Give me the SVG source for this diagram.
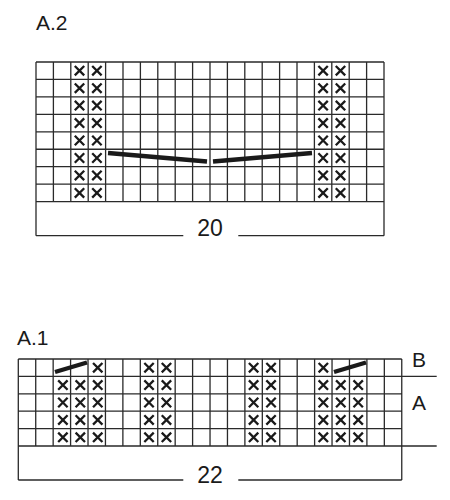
<svg xmlns="http://www.w3.org/2000/svg" xmlns:xlink="http://www.w3.org/1999/xlink" width="450" height="500" viewBox="0 0 450 500">
<style>
.grid{fill:none;stroke:#2a2a2a;stroke-width:1.3}
.xm{fill:none;stroke:#1a1a1a;stroke-width:2.3}
.dec{stroke:#1a1a1a;stroke-width:4.3;stroke-linecap:butt}
.lbl{font-family:"Liberation Sans",Arial,sans-serif;font-size:21px;fill:#1a1a1a}
.num{font-family:"Liberation Sans",Arial,sans-serif;font-size:23px;fill:#1a1a1a;text-anchor:middle}
</style>
<defs>
<path id="x" class="xm" d="M-4.7,-4.7L4.7,4.7M4.7,-4.7L-4.7,4.7"/>
</defs>
<rect width="450" height="500" fill="#fff"/>

<g id="chartA2">
<text class="lbl" x="36" y="30">A.2</text>
<path class="grid" d="M36,62H384M36,79.45H384M36,96.9H384M36,114.35H384M36,131.8H384M36,149.25H384M36,166.7H384M36,184.15H384M36,201.6H384
M36,62V235.7M53.4,62V201.6M70.8,62V201.6M88.2,62V201.6M105.6,62V201.6M123,62V201.6M140.4,62V201.6M157.8,62V201.6M175.2,62V201.6M192.6,62V201.6M210,62V201.6M227.4,62V201.6M244.8,62V201.6M262.2,62V201.6M279.6,62V201.6M297,62V201.6M314.4,62V201.6M331.8,62V201.6M349.2,62V201.6M366.6,62V201.6M384,62V235.7
M36,235.7H183.3M238.3,235.7H384"/>
<text class="num" x="210" y="236">20</text>
<g id="a2x">
<use xlink:href="#x" x="79.5" y="70.7"/><use xlink:href="#x" x="96.9" y="70.7"/><use xlink:href="#x" x="323.1" y="70.7"/><use xlink:href="#x" x="340.5" y="70.7"/>
<use xlink:href="#x" x="79.5" y="88.2"/><use xlink:href="#x" x="96.9" y="88.2"/><use xlink:href="#x" x="323.1" y="88.2"/><use xlink:href="#x" x="340.5" y="88.2"/>
<use xlink:href="#x" x="79.5" y="105.6"/><use xlink:href="#x" x="96.9" y="105.6"/><use xlink:href="#x" x="323.1" y="105.6"/><use xlink:href="#x" x="340.5" y="105.6"/>
<use xlink:href="#x" x="79.5" y="123.1"/><use xlink:href="#x" x="96.9" y="123.1"/><use xlink:href="#x" x="323.1" y="123.1"/><use xlink:href="#x" x="340.5" y="123.1"/>
<use xlink:href="#x" x="79.5" y="140.5"/><use xlink:href="#x" x="96.9" y="140.5"/><use xlink:href="#x" x="323.1" y="140.5"/><use xlink:href="#x" x="340.5" y="140.5"/>
<use xlink:href="#x" x="79.5" y="158"/><use xlink:href="#x" x="96.9" y="158"/><use xlink:href="#x" x="323.1" y="158"/><use xlink:href="#x" x="340.5" y="158"/>
<use xlink:href="#x" x="79.5" y="175.4"/><use xlink:href="#x" x="96.9" y="175.4"/><use xlink:href="#x" x="323.1" y="175.4"/><use xlink:href="#x" x="340.5" y="175.4"/>
<use xlink:href="#x" x="79.5" y="192.9"/><use xlink:href="#x" x="96.9" y="192.9"/><use xlink:href="#x" x="323.1" y="192.9"/><use xlink:href="#x" x="340.5" y="192.9"/>
</g>
<line class="dec" x1="108" y1="153" x2="207" y2="161.5"/>
<line class="dec" x1="213" y1="161.5" x2="312" y2="153"/>
</g>

<g id="chartA1">
<text class="lbl" x="17" y="345">A.1</text>
<path class="grid" d="M18.3,359H401.76M18.3,376.4H436.7M18.3,393.8H401.76M18.3,411.2H401.76M18.3,428.6H401.76M18.3,446H436.7
M18.3,359V480M35.73,359V446M53.16,359V446M70.59,359V446M88.02,359V446M105.45,359V446M122.88,359V446M140.31,359V446M157.74,359V446M175.17,359V446M192.6,359V446M210.03,359V446M227.46,359V446M244.89,359V446M262.32,359V446M279.75,359V446M297.18,359V446M314.61,359V446M332.04,359V446M349.47,359V446M366.9,359V446M384.33,359V446M401.76,359V480
M18.3,480H183.3M238.3,480H401.76"/>
<text class="num" x="210" y="483">22</text>
<text class="lbl" x="412" y="367">B</text>
<text class="lbl" x="412" y="410">A</text>
<g id="a1x">
<use xlink:href="#x" x="97.73" y="367.7"/><use xlink:href="#x" x="149.03" y="367.7"/><use xlink:href="#x" x="166.46" y="367.7"/><use xlink:href="#x" x="253.6" y="367.7"/><use xlink:href="#x" x="271.04" y="367.7"/><use xlink:href="#x" x="323.33" y="367.7"/>
<use xlink:href="#x" x="62.88" y="385.1"/><use xlink:href="#x" x="80.31" y="385.1"/><use xlink:href="#x" x="97.73" y="385.1"/><use xlink:href="#x" x="149.03" y="385.1"/><use xlink:href="#x" x="166.46" y="385.1"/><use xlink:href="#x" x="253.6" y="385.1"/><use xlink:href="#x" x="271.04" y="385.1"/><use xlink:href="#x" x="323.33" y="385.1"/><use xlink:href="#x" x="340.76" y="385.1"/><use xlink:href="#x" x="358.19" y="385.1"/>
<use xlink:href="#x" x="62.88" y="402.5"/><use xlink:href="#x" x="80.31" y="402.5"/><use xlink:href="#x" x="97.73" y="402.5"/><use xlink:href="#x" x="149.03" y="402.5"/><use xlink:href="#x" x="166.46" y="402.5"/><use xlink:href="#x" x="253.6" y="402.5"/><use xlink:href="#x" x="271.04" y="402.5"/><use xlink:href="#x" x="323.33" y="402.5"/><use xlink:href="#x" x="340.76" y="402.5"/><use xlink:href="#x" x="358.19" y="402.5"/>
<use xlink:href="#x" x="62.88" y="419.9"/><use xlink:href="#x" x="80.31" y="419.9"/><use xlink:href="#x" x="97.73" y="419.9"/><use xlink:href="#x" x="149.03" y="419.9"/><use xlink:href="#x" x="166.46" y="419.9"/><use xlink:href="#x" x="253.6" y="419.9"/><use xlink:href="#x" x="271.04" y="419.9"/><use xlink:href="#x" x="323.33" y="419.9"/><use xlink:href="#x" x="340.76" y="419.9"/><use xlink:href="#x" x="358.19" y="419.9"/>
<use xlink:href="#x" x="62.88" y="437.3"/><use xlink:href="#x" x="80.31" y="437.3"/><use xlink:href="#x" x="97.73" y="437.3"/><use xlink:href="#x" x="149.03" y="437.3"/><use xlink:href="#x" x="166.46" y="437.3"/><use xlink:href="#x" x="253.6" y="437.3"/><use xlink:href="#x" x="271.04" y="437.3"/><use xlink:href="#x" x="323.33" y="437.3"/><use xlink:href="#x" x="340.76" y="437.3"/><use xlink:href="#x" x="358.19" y="437.3"/>
</g>
<line class="dec" x1="55" y1="372" x2="87" y2="362.5"/>
<line class="dec" x1="334" y1="372" x2="366" y2="362.5"/>
</g>
</svg>
